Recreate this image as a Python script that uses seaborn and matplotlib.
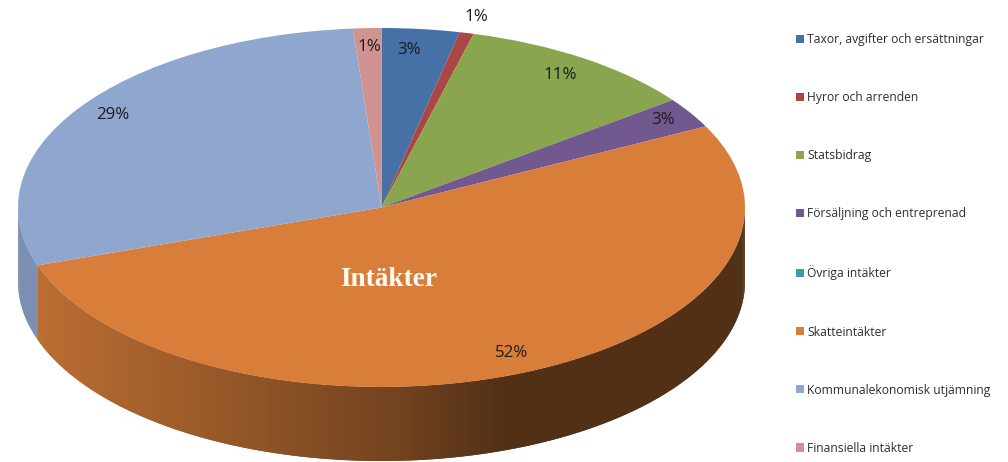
import numpy as np
import matplotlib
matplotlib.use("Agg")
import matplotlib.pyplot as plt
import seaborn as sns

categories = ["Taxor, avgifter och ersättningar", "Hyror och arrenden", "Statsbidrag",
              "Försäljning och entreprenad", "Övriga intäkter", "Skatteintäkter",
              "Kommunalekonomisk utjämning", "Finansiella intäkter"]
values = [3.45, 0.63, 10.7, 2.76, 0.0, 52.24, 28.96, 1.26]
value_labels = ["3%", "1%", "11%", "3%", "", "52%", "29%", "1%"]
colors = ["#4571A6", "#AA4643", "#89A54E", "#71588F", "#4198AF", "#D87E3A", "#8FA6CE", "#D19392"]
title = "Intäkter"

# label placement: fraction along the wedge, radius fraction
label_frac = [0.40, 0.59, 0.491, 0.463, 0.5, 0.495, 0.515, 0.52]
label_rad = [0.88, 1.093, 0.886, 0.916, 0.9, 0.885, 0.90, 0.895]

W, H = 1008, 462
CX, CY, RX, RY, DEPTH = 381.5, 207.5, 363.5, 179.5, 74.0

sns.set_theme(style="white")
fig = plt.figure(figsize=(W / 100, H / 100), dpi=100)
ax = fig.add_axes([0, 0, 1, 1])
palette = sns.color_palette(colors)

wedges, _ = ax.pie(values, colors=palette, startangle=90, counterclock=False,
                   normalize=True, radius=1.0, wedgeprops=dict(linewidth=0, zorder=3),
                   frame=True)
ax.set_aspect("auto")
ax.set_xlim((0 - CX) / RX, (W - CX) / RX)
ax.set_ylim((CY - H) / RY, CY / RY)
ax.axis("off")

# side wall, shaded by horizontal position; each strip overlaps the next to avoid seams
d = DEPTH / RY
edges = np.concatenate([[0], np.cumsum(values)]) / sum(values) * 360
for i, c in enumerate(palette):
    a0, a1 = max(edges[i], 90), min(edges[i + 1], 270)
    if a1 <= a0:
        continue
    grid = np.linspace(a0, a1, int((a1 - a0) * 2) + 2)
    n = len(grid) - 1
    for k in range(n):
        ts = np.radians(np.linspace(grid[k], grid[min(k + 2, n)], 5))
        xs, ys = np.sin(ts), np.cos(ts)
        xm = np.sin(np.radians((grid[k] + grid[k + 1]) / 2))
        shade = np.interp(xm, [-1, -0.95, 0.05, 0.33, 1], [0.85, 0.87, 0.53, 0.38, 0.38])
        col = tuple(np.array(c) * shade)
        ax.fill(np.r_[xs, xs[::-1]], np.r_[ys, ys[::-1] - d], color=col, lw=0, zorder=1)

# percentage labels
for i, lab in enumerate(value_labels):
    if not lab:
        continue
    t = np.radians(edges[i] + (edges[i + 1] - edges[i]) * label_frac[i])
    ax.text(label_rad[i] * np.sin(t), label_rad[i] * np.cos(t), lab, ha="center", va="center",
            fontsize=12.2, family="Open Sans", color="#1c1c1c", zorder=5)

ax.text((389 - CX) / RX, (CY - 279) / RY, title, ha="center", va="center", color="#fffaf2",
        fontsize=19.6, family="Liberation Serif", fontweight="bold", zorder=5)

leg = ax.legend(wedges, categories, loc="upper left", bbox_to_anchor=(0.79, 0.928),
                bbox_transform=fig.transFigure, frameon=False,
                prop=dict(family="Open Sans", size=8.7),
                handlelength=0.67, handleheight=0.67, handletextpad=0.25, labelspacing=3.73,
                borderpad=0, borderaxespad=0)
for t in leg.get_texts():
    t.set_color("#2e2e2e")

fig.savefig("out.png", dpi=100, facecolor="white")
